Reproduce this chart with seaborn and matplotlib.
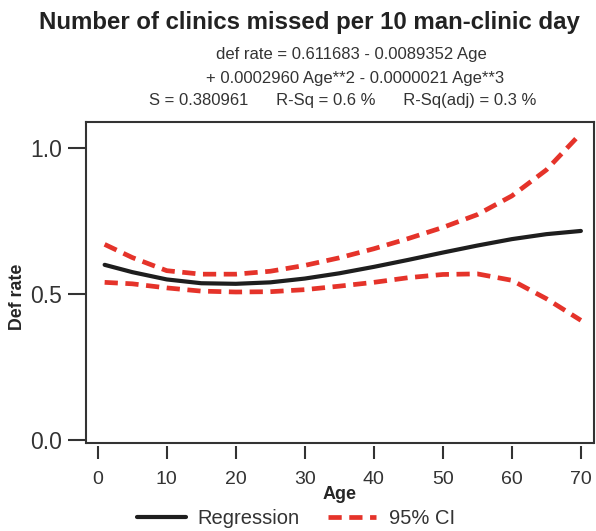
import pandas as pd
import numpy as np
import seaborn as sns
import matplotlib.pyplot as plt
from matplotlib.lines import Line2D

# values
age = [1, 5, 10, 15, 20, 25, 30, 35, 40, 45, 50, 55, 60, 65, 70]
regression = [0.600, 0.575, 0.550, 0.537, 0.535, 0.540, 0.553, 0.571,
              0.593, 0.617, 0.642, 0.666, 0.688, 0.705, 0.716]
ci_upper = [0.670, 0.625, 0.580, 0.568, 0.568, 0.578, 0.598, 0.624,
            0.655, 0.690, 0.728, 0.772, 0.836, 0.925, 1.050]
ci_lower = [0.540, 0.535, 0.521, 0.510, 0.507, 0.508, 0.515, 0.527,
            0.540, 0.556, 0.567, 0.569, 0.547, 0.484, 0.410]

x_ticks = [0, 10, 20, 30, 40, 50, 60, 70]
y_ticks = [0.0, 0.5, 1.0]

title = "Number of clinics missed per 10 man-clinic day"
eq_lines = ["def rate = 0.611683 - 0.0089352 Age",
            "+ 0.0002960 Age**2 - 0.0000021 Age**3",
            "S = 0.380961      R-Sq = 0.6 %      R-Sq(adj) = 0.3 %"]

df = pd.DataFrame({"Age": age, "fit": regression, "up": ci_upper, "low": ci_lower})

sns.set_style("white")
plt.rcParams["font.family"] = ["Liberation Sans", "DejaVu Sans"]

W, H = 596, 531
fig = plt.figure(figsize=(W / 100, H / 100), dpi=100)
ax = fig.add_axes([86 / W, 1 - 443 / H, (594 - 86) / W, (443 - 122) / H])

red = "#e5332a"
dash = (0, (2.8, 1.6))
sns.lineplot(data=df, x="Age", y="fit", ax=ax, color="#1e1e1e", lw=3.0)
sns.lineplot(data=df, x="Age", y="up", ax=ax, color=red, lw=3.4, linestyle=dash)
sns.lineplot(data=df, x="Age", y="low", ax=ax, color=red, lw=3.4, linestyle=dash)

ax.set_xlim(-1.7, 71.9)
ax.set_ylim(-0.01, 1.089)
ax.set_xticks(x_ticks)
ax.set_yticks(y_ticks)
ax.set_yticklabels([f"{v:.1f}" for v in y_ticks])

spine_col = "#333333"
for s in ["left", "top", "right"]:
    ax.spines[s].set_color(spine_col)
    ax.spines[s].set_linewidth(1.5)
# x ticks sit a little below the box, box bottom drawn separately
ax.spines["bottom"].set_position(("outward", 2))
ax.spines["bottom"].set_color("none")
ax.axhline(-0.01, color=spine_col, lw=1.5, clip_on=False)

ax.tick_params(axis="y", direction="out", length=13, width=1.5, color=spine_col,
               labelsize=16.5, labelcolor="#333333", pad=4, left=True)
ax.tick_params(axis="x", direction="out", length=9.5, width=1.5, color=spine_col,
               labelsize=14, labelcolor="#333333", pad=9, bottom=True)

ax.set_xlabel("Age", fontsize=13, fontweight="bold", labelpad=-2)
ax.set_ylabel("Def rate", fontsize=12.8, fontweight="bold")
ax.yaxis.set_label_coords(-0.118, 0.455)

fig.text(309 / W, 1 - 23 / H, title, ha="center", va="center",
         fontsize=17.3, fontweight="bold", color="#222222")
for i, (ln, yy) in enumerate(zip(eq_lines, [54, 78, 101])):
    cx = [351, 355, 343][i]
    fig.text(cx / W, 1 - yy / H, ln, ha="center", va="center",
             fontsize=12, color="#333333")

handles = [Line2D([], [], color="#1e1e1e", lw=3.0),
           Line2D([], [], color=red, lw=3.4, linestyle=dash)]
fig.legend(handles, ["Regression", "95% CI"], loc="center",
           bbox_to_anchor=(296 / W, 1 - 519 / H), ncol=2, frameon=False,
           fontsize=14.5, handlelength=2.4, columnspacing=1.4, handletextpad=0.6,
           labelcolor="#333333", borderpad=0.2)

fig.savefig("out.png", dpi=100)
